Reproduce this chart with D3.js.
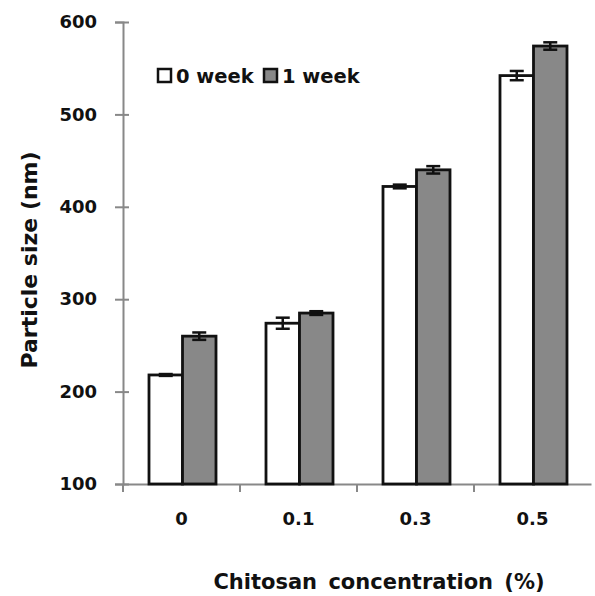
<!DOCTYPE html>
<html>
<head>
<meta charset="utf-8">
<script src="https://cdn.jsdelivr.net/npm/d3@7"></script>
<style>
  body { margin: 0; background: #fff; }
  text { font-family: "DejaVu Sans", sans-serif; font-weight: bold; }
</style>
</head>
<body>
<div id="chart"></div>
<script>
// values
const categories = ["0", "0.1", "0.3", "0.5"];
const seriesNames = ["0 week", "1 week"];
const week0 = [218, 274, 422, 542];
const week0Err = [1, 6, 2, 5];
const week1 = [260, 285, 440, 574];
const week1Err = [4, 2, 4, 4];
const yTicks = [100, 200, 300, 400, 500, 600];

const colors = ["#ffffff", "#888888"];

const margin = {top: 22, right: 4, bottom: 112, left: 123};
const W = 595, H = 596;
const width = W - margin.left - margin.right;
const height = H - margin.top - margin.bottom;

const svg = d3.select("#chart")
    .append("svg")
    .attr("width", W)
    .attr("height", H)
  .append("g")
    .attr("transform", `translate(${margin.left},${margin.top})`);

const x = d3.scaleBand()
    .domain(categories)
    .range([0, 468])
    .paddingInner(0)
    .paddingOuter(0);

const x1 = d3.scaleBand()
    .domain(seriesNames)
    .range([26, x.bandwidth() - 24]);

const y = d3.scaleLinear()
    .domain([100, 600])
    .range([height, 0]);

const data = categories.map((c, i) => ({
    cat: c,
    vals: [
        {s: seriesNames[0], v: week0[i], e: week0Err[i], k: 0},
        {s: seriesNames[1], v: week1[i], e: week1Err[i], k: 1}
    ]
}));

// y axis
const yAxis = svg.append("g")
    .call(d3.axisLeft(y).tickValues(yTicks).tickSize(8).tickPadding(18));
yAxis.select(".domain").attr("stroke", "#888").attr("stroke-width", 2);
yAxis.selectAll(".tick line").attr("stroke", "#888").attr("stroke-width", 2).attr("x2", 0).attr("x1", -8);
yAxis.selectAll(".tick").append("line").attr("x1", 0).attr("x2", 6).attr("stroke", "#888").attr("stroke-width", 2);
yAxis.selectAll("text").attr("font-size", 18).attr("fill", "#111");

// x axis
const xAxis = svg.append("g")
    .attr("transform", `translate(0,${height})`)
    .call(d3.axisBottom(x).tickSize(0).tickPadding(28));
xAxis.select(".domain").attr("stroke", "#888").attr("stroke-width", 2);
xAxis.selectAll("text").attr("font-size", 18).attr("fill", "#111");
// category separators
svg.append("g")
    .selectAll("line")
    .data(categories)
    .enter()
    .append("line")
    .attr("x1", d => x(d)).attr("x2", d => x(d))
    .attr("y1", height).attr("y2", height + 8)
    .attr("stroke", "#888").attr("stroke-width", 2);

// bars
const groups = svg.selectAll(".grp")
    .data(data)
    .enter()
    .append("g")
    .attr("transform", d => `translate(${x(d.cat)},0)`);

groups.selectAll("rect")
    .data(d => d.vals)
    .enter()
    .append("rect")
    .attr("x", d => x1(d.s))
    .attr("y", d => y(d.v))
    .attr("width", x1.bandwidth())
    .attr("height", d => height - y(d.v))
    .attr("fill", d => colors[d.k])
    .attr("stroke", "#111")
    .attr("stroke-width", 2.8);

// error bars
const eb = groups.selectAll(".err")
    .data(d => d.vals)
    .enter()
    .append("g")
    .attr("stroke", "#111")
    .attr("stroke-width", 2.5);
const cx = d => x1(d.s) + x1.bandwidth() / 2;
eb.append("line")
    .attr("x1", cx).attr("x2", cx)
    .attr("y1", d => y(d.v + d.e)).attr("y2", d => y(d.v - d.e));
eb.append("line")
    .attr("x1", d => cx(d) - 7).attr("x2", d => cx(d) + 7)
    .attr("y1", d => y(d.v + d.e)).attr("y2", d => y(d.v + d.e));
eb.append("line")
    .attr("x1", d => cx(d) - 7).attr("x2", d => cx(d) + 7)
    .attr("y1", d => y(d.v - d.e)).attr("y2", d => y(d.v - d.e));

// legend
const legend = svg.append("g").attr("transform", "translate(35,47)");
const legX = [0, 106];
seriesNames.forEach((name, i) => {
    const g = legend.append("g").attr("transform", `translate(${legX[i]},0)`);
    g.append("rect")
        .attr("x", 0).attr("y", 0)
        .attr("width", 13).attr("height", 13)
        .attr("fill", colors[i])
        .attr("stroke", "#111")
        .attr("stroke-width", 2.5);
    g.append("text")
        .attr("x", 18).attr("y", 14)
        .attr("font-size", 19.5)
        .attr("fill", "#111")
        .text(name);
});

// axis titles
svg.append("text")
    .attr("transform", `translate(-86,${height / 2 + 7}) rotate(-90)`)
    .attr("text-anchor", "middle")
    .attr("font-size", 22)
    .attr("fill", "#111")
    .text("Particle size (nm)");

svg.append("text")
    .attr("x", 256)
    .attr("y", height + 105)
    .attr("text-anchor", "middle")
    .attr("font-size", 21)
    .attr("word-spacing", 4)
    .attr("fill", "#111")
    .text("Chitosan concentration (%)");
</script>
</body>
</html>
